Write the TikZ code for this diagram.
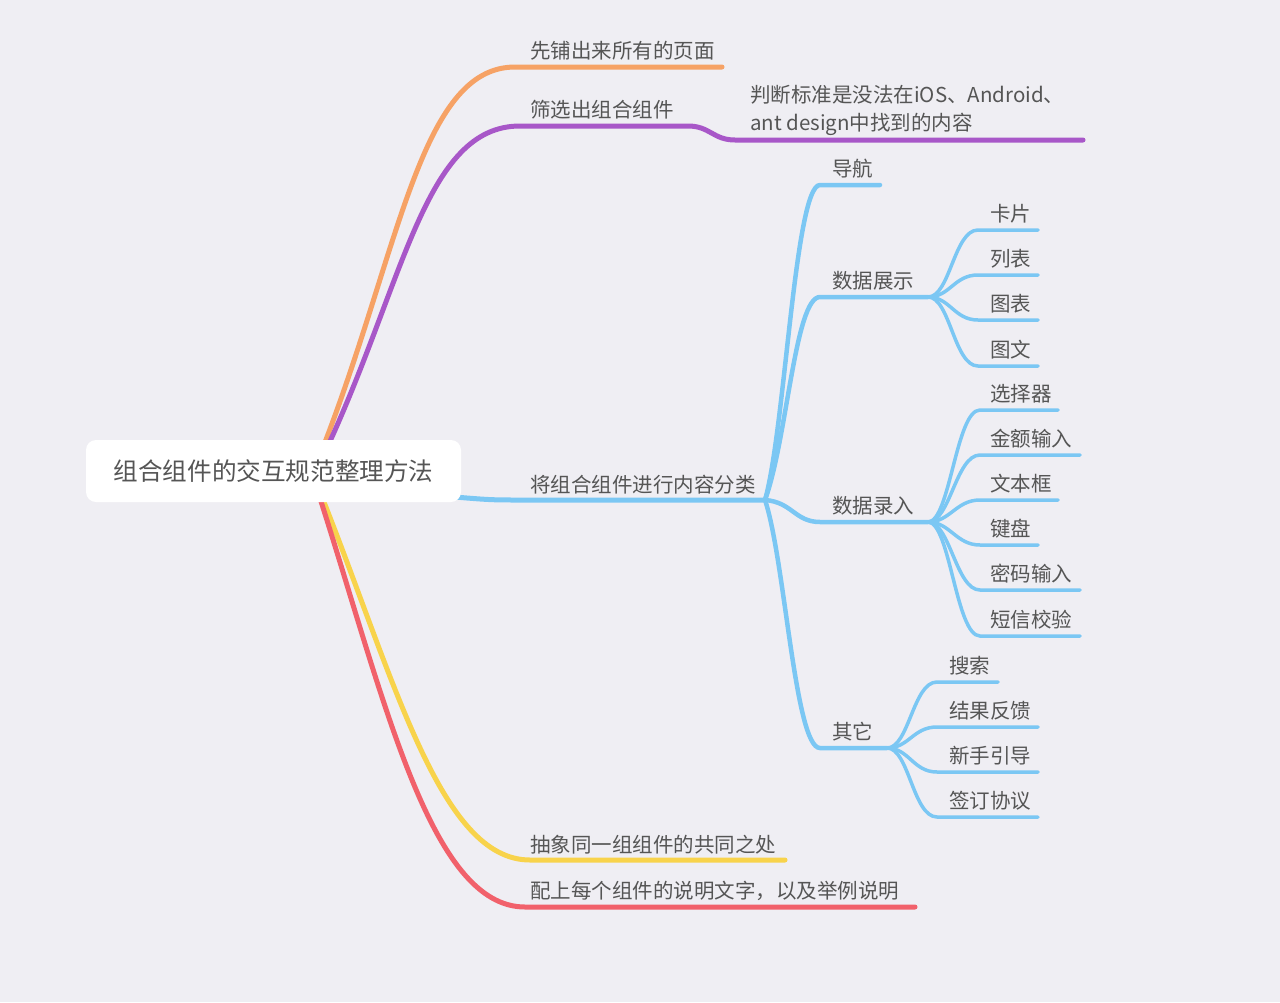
\documentclass[tikz,border=0pt]{standalone}
\usepackage{fontspec}
\setmainfont{Noto Sans CJK SC}
\usetikzlibrary{calc}
\definecolor{bg}{HTML}{EFEEF3}
\definecolor{txt}{HTML}{555555}
\definecolor{cOr}{HTML}{F6A265}
\definecolor{cPu}{HTML}{A857C8}
\definecolor{cBl}{HTML}{7BC7F3}
\definecolor{cYe}{HTML}{F8D34B}
\definecolor{cRe}{HTML}{F1616B}
\tikzset{
  lbl/.style={anchor=base west, inner sep=0pt, text=txt, font=\fontsize{20.5}{28}\selectfont},
  mainln/.style={line width=5pt, line cap=round},
  subln/.style={line width=4.5pt, line cap=round, cBl},
  leafln/.style={line width=3.5pt, line cap=round, cBl},
  rootbox/.style={fill=white, rounded corners=10pt, minimum width=375pt, minimum height=62pt, inner sep=0pt, text=txt, font=\fontsize{24.6}{28}\selectfont}
}
\begin{document}
\begin{tikzpicture}[x=1pt,y=-1pt]
\fill[bg] (0,0) rectangle (1280,1002);
\useasboundingbox (0,0) rectangle (1280,1002);

% anchor points
\coordinate (rT1) at (322,450);
\coordinate (rT2) at (326,450);
\coordinate (rB1) at (320,492);
\coordinate (rB2) at (318,492);
\coordinate (rR) at (455,497);

% orange
\coordinate (oA) at (515,67); \coordinate (oB) at (722,67);
\draw[mainln, cOr] (rT1) .. controls (400,250) and (420,67) .. (oA) -- (oB);
\node[lbl] (o) at (530,58) {先铺出来所有的页面};

% purple
\coordinate (pA) at (520,126); \coordinate (pB) at (688,126);
\coordinate (pC) at (735,140); \coordinate (pD) at (1083,140);
\draw[mainln, cPu] (rT2) .. controls (405,280) and (425,126) .. (pA) -- (pB)
   .. controls +(22,0) and +(-22,0) .. (pC) -- (pD);
\node[lbl] (p) at (530,117) {筛选出组合组件};
\node[lbl, anchor=south west, align=left] (p2) at (750,136) {判断标准是没法在iOS、Android、\\ant design中找到的内容};

% yellow
\coordinate (yA) at (530,860); \coordinate (yB) at (785,860);
\draw[mainln, cYe] (rB1) .. controls (395,680) and (440,860) .. (yA) -- (yB);
\node[lbl] (y) at (530,852) {抽象同一组组件的共同之处};

% red
\coordinate (reA) at (525,907); \coordinate (reB) at (915,907);
\draw[mainln, cRe] (rB2) .. controls (385,700) and (430,907) .. (reA) -- (reB);
\node[lbl] (re) at (530,898) {配上每个组件的说明文字，以及举例说明};

% blue main
\coordinate (bA) at (520,500); \coordinate (J) at (765,500);
\draw[mainln, cBl] (rR) .. controls (490,500) and (495,500) .. (bA) -- (J);
\node[lbl] (b) at (530,492) {将组合组件进行内容分类};

% root
\node[rootbox] (root) at (273.5,471) {组合组件的交互规范整理方法};

% sub branches
\coordinate (navA) at (820,185); \coordinate (navB) at (880,185);
\draw[subln] (J) .. controls (785,430) and (795,185) .. (navA) -- (navB);
\node[lbl] (nav) at (832,176) {导航};

\coordinate (shA) at (820,297); \coordinate (shJ) at (928,297);
\draw[subln] (J) .. controls (787,440) and (795,297) .. (shA) -- (shJ);
\node[lbl] (sh) at (832,288) {数据展示};

\coordinate (inA) at (820,522); \coordinate (inJ) at (928,522);
\draw[subln] (J) .. controls (792,502) and (795,522) .. (inA) -- (inJ);
\node[lbl] (in) at (832,513) {数据录入};

\coordinate (otA) at (820,748); \coordinate (otJ) at (887,748);
\draw[subln] (J) .. controls (785,560) and (795,748) .. (otA) -- (otJ);
\node[lbl] (ot) at (832,739) {其它};

% leaves of 数据展示
\foreach \n/\t/\yy/\xe in {s1/卡片/230/1038, s2/列表/275/1038, s3/图表/320/1038, s4/图文/366/1038}{
  \coordinate (\n A) at (978,\yy); \coordinate (\n B) at (\xe,\yy);
  \draw[leafln] (shJ) .. controls +(22,0) and +(-24,0) .. (\n A) -- (\n B);
  \node[lbl] (\n) at (990,\yy-9) {\t};
}
% leaves of 数据录入
\foreach \n/\t/\yy/\xe in {i1/选择器/410/1058, i2/金额输入/455/1080, i3/文本框/500/1058, i4/键盘/545/1038, i5/密码输入/590/1080, i6/短信校验/636/1080}{
  \coordinate (\n A) at (980,\yy); \coordinate (\n B) at (\xe,\yy);
  \draw[leafln] (inJ) .. controls +(22,0) and +(-24,0) .. (\n A) -- (\n B);
  \node[lbl] (\n) at (990,\yy-9) {\t};
}
% leaves of 其它
\foreach \n/\t/\yy/\xe in {q1/搜索/682/998, q2/结果反馈/727/1038, q3/新手引导/772/1038, q4/签订协议/817/1038}{
  \coordinate (\n A) at (937,\yy); \coordinate (\n B) at (\xe,\yy);
  \draw[leafln] (otJ) .. controls +(22,0) and +(-24,0) .. (\n A) -- (\n B);
  \node[lbl] (\n) at (949,\yy-9) {\t};
}
\end{tikzpicture}
\end{document}
